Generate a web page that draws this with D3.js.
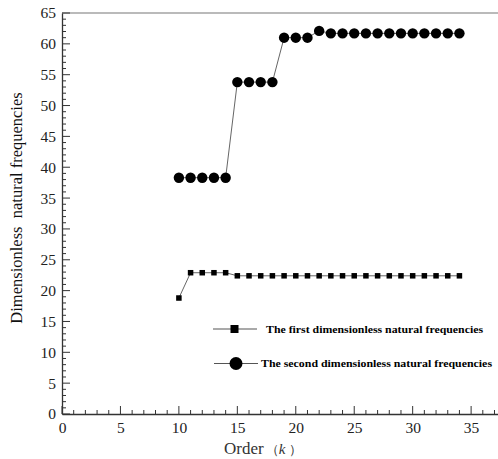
<!DOCTYPE html>
<html>
<head>
<meta charset="utf-8">
<script src="https://cdn.jsdelivr.net/npm/d3@7"></script>
<style>
  body { margin: 0; background: #fff; }
  svg, svg text { font-family: 'Times New Roman', 'Liberation Serif', 'DejaVu Serif', serif !important; }
  svg text.mono { font-family: 'Noto Sans CJK SC', 'Liberation Serif', serif !important; font-weight: 300; }
</style>
</head>
<body>
<div id="chart"></div>
<script>
// order k
var orders = [10, 11, 12, 13, 14, 15, 16, 17, 18, 19, 20, 21, 22, 23, 24, 25, 26, 27, 28, 29, 30, 31, 32, 33, 34];
// first dimensionless natural frequencies
var firstFreq = [18.8, 22.9, 22.9, 22.9, 22.9, 22.4, 22.4, 22.4, 22.4, 22.4, 22.4, 22.4, 22.4, 22.4, 22.4, 22.4, 22.4, 22.4, 22.4, 22.4, 22.4, 22.4, 22.4, 22.4, 22.4];
// second dimensionless natural frequencies
var secondFreq = [38.3, 38.3, 38.3, 38.3, 38.3, 53.8, 53.8, 53.8, 53.8, 61.0, 61.0, 61.0, 62.1, 61.7, 61.7, 61.7, 61.7, 61.7, 61.7, 61.7, 61.7, 61.7, 61.7, 61.7, 61.7];
var xTicks = [0, 5, 10, 15, 20, 25, 30, 35];
var yTicks = [0, 5, 10, 15, 20, 25, 30, 35, 40, 45, 50, 55, 60, 65];
var legendLabels = ["The first dimensionless natural frequencies", "The second dimensionless natural frequencies"];

var width = 498, height = 459;
var margin = {top: 13, right: 0, bottom: 45, left: 62};
var w = width - margin.left - margin.right;
var h = height - margin.top - margin.bottom;

var svg = d3.select("#chart").append("svg")
    .attr("width", width)
    .attr("height", height);

var g = svg.append("g")
    .attr("transform", "translate(" + margin.left + "," + margin.top + ")");

var x = d3.scaleLinear().domain([0, 37.3]).range([0, w]);
var y = d3.scaleLinear().domain([0, 65]).range([h, 0]);

// top border
g.append("line")
    .attr("x1", 0).attr("x2", w)
    .attr("y1", 0).attr("y2", 0)
    .attr("stroke", "#777")
    .attr("stroke-width", 1.2);

// minor ticks, one per unit
var xMinor = d3.range(0, 38, 1);
var yMinor = d3.range(0, 66, 1);

g.selectAll(".xminor")
    .data(xMinor)
    .enter().append("line")
    .attr("x1", function(d) { return x(d); })
    .attr("x2", function(d) { return x(d); })
    .attr("y1", h)
    .attr("y2", function(d) { return d % 5 === 0 ? h - 8 : h - 4; })
    .attr("stroke", "#333")
    .attr("stroke-width", 1);

g.selectAll(".yminor")
    .data(yMinor)
    .enter().append("line")
    .attr("y1", function(d) { return y(d); })
    .attr("y2", function(d) { return y(d); })
    .attr("x1", 0)
    .attr("x2", function(d) { return d % 5 === 0 ? 8 : 4; })
    .attr("stroke", "#333")
    .attr("stroke-width", 1);

// axes
var xAxis = d3.axisBottom(x).tickValues(xTicks).tickSize(0).tickPadding(8);
var yAxis = d3.axisLeft(y).tickValues(yTicks).tickSize(0).tickPadding(6);

var gx = g.append("g")
    .attr("transform", "translate(0," + h + ")")
    .call(xAxis)
    .attr("font-size", 15.5);
gx.select(".domain").attr("stroke", "#333").attr("stroke-width", 1.3);
gx.selectAll("text").attr("fill", "#222");

var gy = g.append("g")
    .call(yAxis)
    .attr("font-size", 15.5);
gy.select(".domain").attr("stroke", "#333").attr("stroke-width", 1.3);
gy.selectAll("text").attr("fill", "#222");

// lines
var line1 = d3.line()
    .x(function(d, i) { return x(orders[i]); })
    .y(function(d) { return y(d); });

g.append("path")
    .datum(firstFreq)
    .attr("d", line1)
    .attr("fill", "none")
    .attr("stroke", "#666")
    .attr("stroke-width", 1);

g.append("path")
    .datum(secondFreq)
    .attr("d", line1)
    .attr("fill", "none")
    .attr("stroke", "#666")
    .attr("stroke-width", 1);

// markers
var sq = 5.5;
g.selectAll(".sq")
    .data(firstFreq)
    .enter().append("rect")
    .attr("x", function(d, i) { return x(orders[i]) - sq / 2; })
    .attr("y", function(d) { return y(d) - sq / 2; })
    .attr("width", sq)
    .attr("height", sq)
    .attr("fill", "#000");

g.selectAll(".dot")
    .data(secondFreq)
    .enter().append("circle")
    .attr("cx", function(d, i) { return x(orders[i]); })
    .attr("cy", function(d) { return y(d); })
    .attr("r", 5.2)
    .attr("fill", "#000");

// legend
var legend = svg.append("g");
legend.append("line")
    .attr("x1", 213).attr("x2", 257)
    .attr("y1", 329).attr("y2", 329)
    .attr("stroke", "#555").attr("stroke-width", 1.2);
legend.append("rect")
    .attr("x", 234.5 - 4).attr("y", 329 - 4)
    .attr("width", 8).attr("height", 8)
    .attr("fill", "#000");
legend.append("text")
    .attr("x", 266).attr("y", 332.5)
    .attr("textLength", 217)
    .attr("lengthAdjust", "spacingAndGlyphs")
    .attr("font-size", 11)
    .attr("font-weight", "bold")
    .text(legendLabels[0]);

legend.append("line")
    .attr("x1", 214).attr("x2", 258)
    .attr("y1", 363.5).attr("y2", 363.5)
    .attr("stroke", "#555").attr("stroke-width", 1.2);
legend.append("circle")
    .attr("cx", 236).attr("cy", 363.5)
    .attr("r", 6.5)
    .attr("fill", "#000");
legend.append("text")
    .attr("x", 261).attr("y", 367)
    .attr("textLength", 231)
    .attr("lengthAdjust", "spacingAndGlyphs")
    .attr("font-size", 11)
    .attr("font-weight", "bold")
    .text(legendLabels[1]);

// axis titles
svg.append("text")
    .attr("transform", "translate(22,208) rotate(-90)")
    .attr("text-anchor", "middle")
    .attr("font-size", 16.5)
    .attr("fill", "#111")
    .text("Dimensionless\u00a0\u00a0natural frequencies");

var xt = svg.append("text")
    .attr("x", 224).attr("y", 454)
    .attr("font-size", 17)
    .attr("fill", "#333");
xt.append("tspan").attr("class", "mono").text("Order");
xt.append("tspan").attr("font-size", 13).attr("dx", 2).text("（");
xt.append("tspan").attr("font-style", "italic").attr("font-size", 15).text("k");
xt.append("tspan").attr("font-size", 13).text(" ）");
</script>
</body>
</html>
